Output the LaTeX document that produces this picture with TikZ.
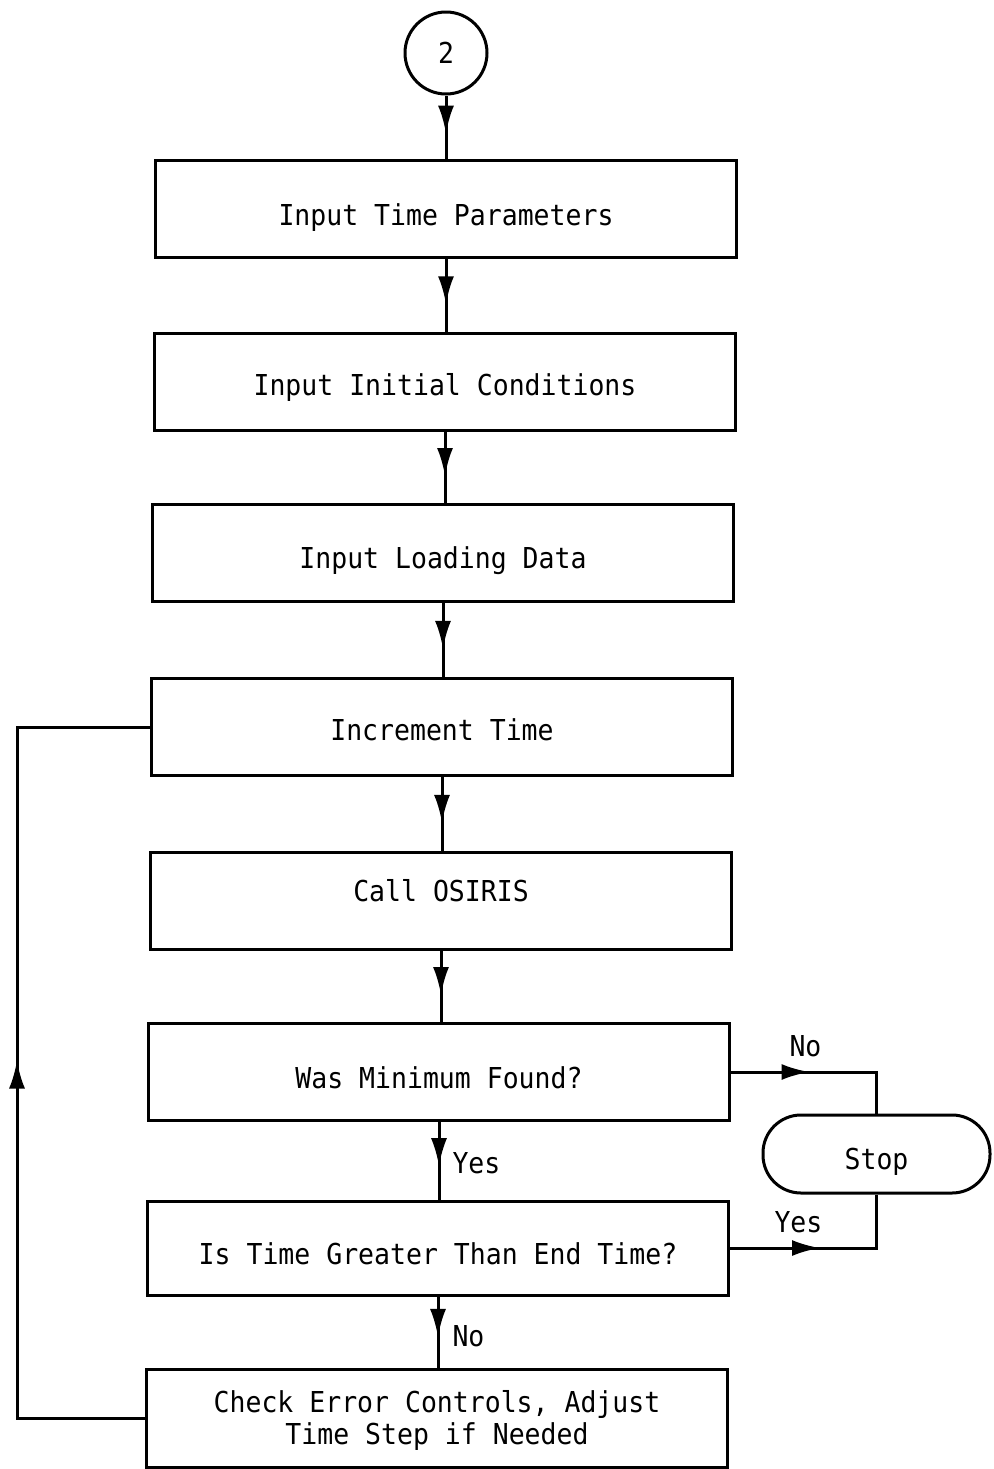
\documentclass[tikz,border=0pt]{standalone}
\usepackage{fontspec}
\newfontfamily\flowfont[FakeStretch=0.92]{DejaVu Sans Mono}
\usetikzlibrary{arrows.meta,decorations.markings,calc}
\begin{document}
\begin{tikzpicture}[x=0.5pt,y=-0.5pt,
  line width=1.5pt,
  every node/.style={font=\flowfont\fontsize{14.4pt}{16pt}\selectfont},
  procbox/.style={draw, rectangle, minimum width=290.5pt, minimum height=48.5pt,
    inner sep=0pt, align=center, text height=16.5pt, text depth=0pt},
  flowarrow/.style={decoration={markings,
      mark=at position #1 with {\arrow{Latex[length=14pt,width=8pt]}}},
    postaction={decorate}},
  flowarrow/.default=0.62,
  lbl/.style={inner sep=0pt, anchor=west}
]
\useasboundingbox (0,0) rectangle (993,1469);

% connector circle
\node[draw, circle, minimum size=41pt, inner sep=0pt] (c2) at (446,53) {2};

% process boxes
\node[procbox] (b1) at (446,209)  {Input Time Parameters};
\node[procbox, text height=13.5pt] (b2) at (445,382)  {Input Initial Conditions};
\node[procbox, text height=15.5pt] (b3) at (443,553)  {Input Loading Data};
\node[procbox, text height=13.5pt] (b4) at (442,727)  {Increment Time};
\node[procbox, text height=0.5pt] (b5) at (441,901)  {Call OSIRIS};
\node[procbox] (b6) at (439,1072) {Was Minimum Found?};
\node[procbox, minimum height=47pt] (b7) at (438,1248) {Is Time Greater Than End Time?};
\node[procbox, minimum height=49pt, text height=26.5pt, text depth=0pt] (b8)
  at (437,1418) {Check Error Controls, Adjust\\Time Step if Needed};

% terminal
\node[draw, rectangle, rounded corners=19pt, minimum width=113.5pt,
  minimum height=39pt, inner sep=0pt, text height=15.5pt, text depth=0pt]
  (stop) at (876.5,1154) {Stop};

% main flow
\draw[flowarrow=0.6] (c2.south) -- (c2.south |- b1.north);
\draw[flowarrow] (b1.south) -- (b1.south |- b2.north);
\draw[flowarrow] (b2.south) -- (b2.south |- b3.north);
\draw[flowarrow] (b3.south) -- (b3.south |- b4.north);
\draw[flowarrow] (b4.south) -- (b4.south |- b5.north);
\draw[flowarrow] (b5.south) -- (b5.south |- b6.north);
\draw[flowarrow=0.57] (b6.south) -- (b6.south |- b7.north);
\draw[flowarrow=0.57] (b7.south) -- (b7.south |- b8.north);

% branch labels
\node[lbl] (lyes) at (451,1163) {Yes};
\node[lbl] (lno)  at (451,1336) {No};

% exits to stop
\draw[flowarrow=0.42] (b6.east) -| (stop.north);
\draw[flowarrow=0.45] (b7.east) -| (stop.south);
\node[lbl] (lno2)  at (788,1046) {No};
\node[lbl] (lyes2) at (773,1222) {Yes};

% loop back to increment time
\coordinate (lp) at (17,727);
\draw[flowarrow=0.51] (b8.west) -| (lp) -- (b4.west);
\end{tikzpicture}
\end{document}
